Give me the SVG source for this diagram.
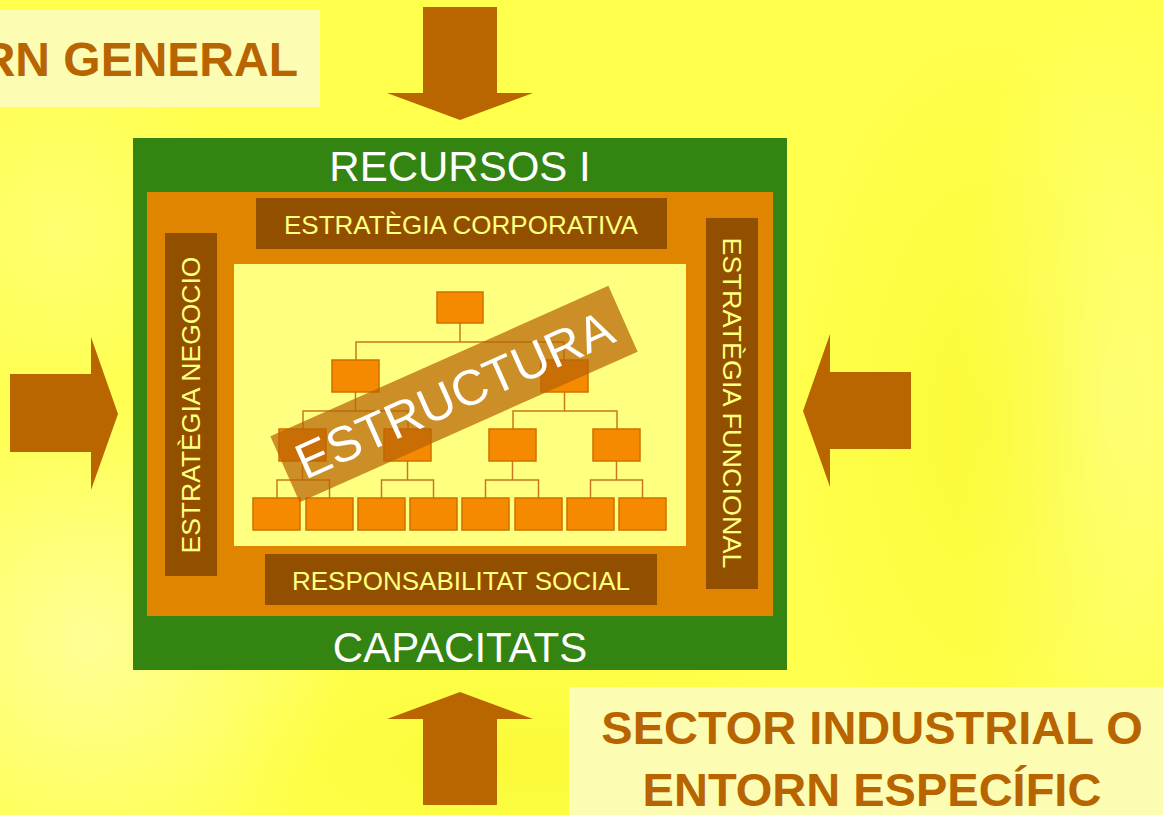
<svg xmlns="http://www.w3.org/2000/svg" width="1163" height="815" viewBox="0 0 1163 815">
<defs>
<radialGradient id="bgL" cx="0.5" cy="0.5" r="0.5"><stop offset="0" stop-color="#FFFFB0" stop-opacity="0.75"/><stop offset="1" stop-color="#FFFFB0" stop-opacity="0"/></radialGradient>
<radialGradient id="bgR" cx="0.5" cy="0.5" r="0.5"><stop offset="0" stop-color="#FFFFA0" stop-opacity="0.6"/><stop offset="1" stop-color="#FFFFA0" stop-opacity="0"/></radialGradient>
<radialGradient id="bgD" cx="0.5" cy="0.5" r="0.5"><stop offset="0" stop-color="#F5F520" stop-opacity="0.45"/><stop offset="1" stop-color="#F5F520" stop-opacity="0"/></radialGradient>
</defs>
<style>
.arrow{fill:#BA6600}
.lbl{fill:#FCFCB2}
.lbltxt{font-family:"Liberation Sans",Arial,sans-serif;font-weight:bold;fill:#B86400;font-size:48px}
.big{font-family:"Liberation Sans",Arial,sans-serif;fill:#FFFFFF;font-size:42px;text-anchor:middle}
.sbox{fill:#924F00}
.stxt{font-family:"Liberation Sans",Arial,sans-serif;fill:#FFFF80;font-size:26px;text-anchor:middle}
.ob{fill:#F58A00;stroke:#CF7000;stroke-width:1.5}
.cn{fill:none;stroke:#C8781E;stroke-width:1.5}
</style>
<rect width="1163" height="815" fill="#FFFF4C"/>
<ellipse cx="90" cy="640" rx="260" ry="260" fill="url(#bgL)"/>
<ellipse cx="60" cy="230" rx="180" ry="200" fill="url(#bgL)" opacity="0.5"/>
<ellipse cx="1110" cy="400" rx="160" ry="420" fill="url(#bgR)"/>
<ellipse cx="980" cy="420" rx="180" ry="380" fill="url(#bgD)"/>
<ellipse cx="520" cy="760" rx="320" ry="120" fill="url(#bgD)"/>

<g id="entorn-general">
<rect class="lbl" x="0" y="10" width="320" height="97"/>
<text class="lbltxt" x="298" y="76" text-anchor="end">RN GENERAL</text>
</g>

<g id="sector-industrial">
<rect class="lbl" x="569" y="687" width="594" height="128"/>
<text class="lbltxt" x="872" y="744" text-anchor="middle" style="font-size:47px">SECTOR INDUSTRIAL O</text>
<text class="lbltxt" x="872" y="806" text-anchor="middle" style="font-size:47px">ENTORN ESPECÍFIC</text>
</g>

<g id="arrows">
<polygon id="arrow-top" class="arrow" points="423,7 497,7 497,93 533,93 460,120 387,93 423,93"/>
<polygon id="arrow-bottom" class="arrow" points="460,692 533,719 497,719 497,805 423,805 423,719 387,719"/>
<polygon id="arrow-left" class="arrow" points="10,374 91,374 91,337 118,414 91,490 91,452 10,452"/>
<polygon id="arrow-right" class="arrow" points="911,372 830,372 830,334 803,411 830,487 830,449 911,449"/>
</g>

<g id="recursos-capacitats">
<rect x="133" y="138" width="654" height="532" fill="#338411"/>
<text class="big" x="460" y="181">RECURSOS I</text>
<text class="big" x="460" y="662">CAPACITATS</text>
</g>

<g id="estrategia">
<rect x="147" y="192" width="626" height="424" fill="#E08500"/>
</g>

<g id="estrategia-corporativa">
<rect class="sbox" x="256" y="198" width="411" height="51"/>
<text class="stxt" x="461" y="234">ESTRATÈGIA CORPORATIVA</text>
</g>

<g id="estrategia-negocio">
<rect class="sbox" x="165" y="233" width="52" height="343"/>
<text class="stxt" transform="translate(200,405) rotate(-90)" textLength="297" lengthAdjust="spacingAndGlyphs">ESTRATÈGIA NEGOCIO</text>
</g>

<g id="estrategia-funcional">
<rect class="sbox" x="706" y="218" width="52" height="371"/>
<text class="stxt" transform="translate(723,403) rotate(90)" textLength="331" lengthAdjust="spacingAndGlyphs">ESTRATÈGIA FUNCIONAL</text>
</g>

<g id="responsabilitat-social">
<rect class="sbox" x="265" y="554" width="392" height="51"/>
<text class="stxt" x="461" y="590">RESPONSABILITAT SOCIAL</text>
</g>

<g id="estructura">
<rect x="234" y="264" width="452" height="282" fill="#FFFF80"/>
<g id="org-connectors">
<path class="cn" d="M460,323V342M356,360V342H564V360"/>
<path class="cn" d="M355.5,392V411M303,429V411H408V429"/>
<path class="cn" d="M564.5,392V411M513,429V411H617V429"/>
<path class="cn" d="M302.5,461V480M277,498V480H329.5V498"/>
<path class="cn" d="M407.5,461V480M381.5,498V480H433.5V498"/>
<path class="cn" d="M512.5,461V480M485.5,498V480H538.5V498"/>
<path class="cn" d="M616.5,461V480M590.5,498V480H642.5V498"/>
</g>
<g id="org-boxes">
<rect class="ob" x="437" y="292" width="46" height="31"/>
<rect class="ob" x="332" y="360" width="47" height="32"/>
<rect class="ob" x="541" y="360" width="47" height="32"/>
<rect class="ob" x="279" y="429" width="47" height="32"/>
<rect class="ob" x="384" y="429" width="47" height="32"/>
<rect class="ob" x="489" y="429" width="47" height="32"/>
<rect class="ob" x="593" y="429" width="47" height="32"/>
<rect class="ob" x="253" y="498" width="47" height="32"/>
<rect class="ob" x="306" y="498" width="47" height="32"/>
<rect class="ob" x="358" y="498" width="47" height="32"/>
<rect class="ob" x="410" y="498" width="47" height="32"/>
<rect class="ob" x="462" y="498" width="47" height="32"/>
<rect class="ob" x="515" y="498" width="47" height="32"/>
<rect class="ob" x="567" y="498" width="47" height="32"/>
<rect class="ob" x="619" y="498" width="47" height="32"/>
</g>
<g id="estructura-banner" transform="translate(454,394) rotate(-24)">
<rect x="-185" y="-36" width="370" height="72" fill="#B86405" fill-opacity="0.72"/>
<text x="0" y="18" text-anchor="middle" font-family="'Liberation Sans',Arial,sans-serif" font-size="50" fill="#FFFFFF">ESTRUCTURA</text>
</g>
</g>
</svg>
